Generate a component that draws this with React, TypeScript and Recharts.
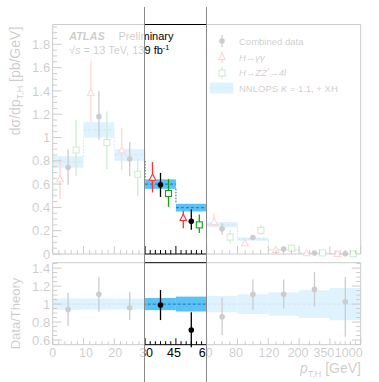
import React from 'react';
import { ComposedChart, Scatter, ErrorBar, XAxis, YAxis, ReferenceArea, ReferenceLine, Legend } from 'recharts';

// bin edges of pT,H (GeV); each bin gets the same width on the plot
const binEdges = ['0', '10', '20', '30', '45', '60', '80', '120', '200', '350', '1000'];

// NNLOPS prediction (pb/GeV) and its relative uncertainty
const theory = [0.79, 1.065, 0.85, 0.6, 0.398, 0.252, 0.127, 0.037, 0.0095, 0.0022];
const theoryRelUnc = [0.063, 0.062, 0.06, 0.068, 0.083, 0.09, 0.11, 0.13, 0.155, 0.18];

// combined measurement
const combined = [0.742, 1.18, 0.815, 0.594, 0.281, 0.217, 0.142, 0.043, 0.009, 0.0025];
const combinedLo = [0.148, 0.2, 0.148, 0.104, 0.072, 0.052, 0.02, 0.006, 0.002, 0.001];
const combinedHi = [0.154, 0.22, 0.145, 0.102, 0.102, 0.05, 0.02, 0.006, 0.002, 0.001];

// H -> gamma gamma
const yy = [0.643, 1.383, 0.89, 0.655, 0.31, 0.275, 0.093, 0.035, 0.007, 0.002];
const yyLo = [0.173, 0.253, 0.17, 0.127, 0.09, 0.038, 0.012, 0.006, 0.003, 0.001];
const yyHi = [0.174, 0.277, 0.19, 0.134, 0.06, 0.073, 0.012, 0.006, 0.003, 0.001];

// H -> ZZ* -> 4l
const zz = [0.893, 0.957, 0.684, 0.519, 0.25, 0.145, 0.203, 0.05, 0.009, 0.002];
const zzLo = [0.226, 0.227, 0.184, 0.113, 0.07, 0.052, 0.038, 0.01, 0.004, 0.002];
const zzHi = [0.257, 0.266, 0.133, 0.124, 0.089, 0.064, 0.043, 0.01, 0.004, 0.002];

// Data / Theory
const ratio = [0.94, 1.108, 0.959, 0.989, 0.711, 0.859, 1.108, 1.108, 1.163, 1.026];
const ratioLo = [0.181, 0.194, 0.137, 0.167, 0.19, 0.203, 0.175, 0.156, 0.193, 0.389];
const ratioHi = [0.186, 0.192, 0.178, 0.167, 0.197, 0.215, 0.166, 0.166, 0.196, 0.274];

const legendLabels = ['Combined data', 'H\u2192\u03b3\u03b3', 'H\u2192ZZ*\u21924l', 'NNLOPS K = 1.1, + XH'];

const RED = '#ff3030';
const GREEN = '#12a012';
const BAND = '#5bc2f4';
const DASH = '#2f7cd6';
const FONT = '"Liberation Sans", Arial, Helvetica, sans-serif';

const W = 379;
const H = 382;
const L = 52.7;
const R = W - 360.7;
const FOCUS_L = 144.5;
const FOCUS_R = 206.7;

const minorDiv = [5, 5, 5, 6, 6, 4, 4, 4, 3, 6];
const xTicks: number[] = [];
minorDiv.forEach((n, i) => {
  for (let k = 0; k < n; k++) xTicks.push(i + k / n);
});
xTicks.push(10);
const labelNudge = [0, 2.5, 1, 1, -2, -1, -1.5, 0.7, -1, -6, -12];

const topTicks = Array.from({ length: 40 }, (_, k) => Math.round(k * 5) / 100);
const ratioTicks = Array.from({ length: 19 }, (_, k) => Math.round(55 + k * 5) / 100);

const pts = (v: number[], lo: number[], hi: number[], shift: number) =>
  v.map((y, i) => ({ x: i + 0.5 + shift, y, err: [lo[i], hi[i]] }));

const combinedPts = pts(combined, combinedLo, combinedHi, 0);
const yyPts = pts(yy, yyLo, yyHi, -0.26);
const zzPts = pts(zz, zzLo, zzHi, 0.26);
const ratioPts = pts(ratio, ratioLo, ratioHi, 0);

const fmt = (v: number) => (Math.abs(v - Math.round(v)) < 1e-6 ? String(Math.round(v)) : v.toFixed(1));
const isMajorY = (v: number) => Math.abs(v / 0.2 - Math.round(v / 0.2)) < 1e-6;

const YTick = (props: any) => {
  const { x, y, payload, side, majorLen, minorLen, fontSize } = props;
  const v = payload.value;
  const major = isMajorY(v);
  const dir = side === 'left' ? 1 : -1;
  return (
    <g>
      <line x1={x} x2={x + dir * (major ? majorLen : minorLen)} y1={y} y2={y} stroke="#000" />
      {side === 'left' && major && (
        <text x={x - 2.5} y={y + 4.6} textAnchor="end" fontSize={fontSize} fill="#000">
          {fmt(v)}
        </text>
      )}
    </g>
  );
};

const XTick = (props: any) => {
  const { x, y, payload, dir, majorLen, minorLen, labels } = props;
  const v = payload.value;
  const major = Math.abs(v - Math.round(v)) < 1e-6;
  const idx = Math.round(v);
  return (
    <g>
      <line x1={x} x2={x} y1={y} y2={y + dir * (major ? majorLen : minorLen)} stroke="#000" />
      {labels && major && (
        <text x={x + labelNudge[idx]} y={y + 12.5} textAnchor="middle" fontSize={12.5} fill="#000">
          {binEdges[idx]}
        </text>
      )}
    </g>
  );
};

const DotShape = (p: any) => <circle cx={p.cx} cy={p.cy} r={2.8} fill="#000" />;
const TriShape = (p: any) => (
  <path
    d={`M${p.cx},${p.cy - 3.6} L${p.cx + 3.3},${p.cy + 2.6} L${p.cx - 3.3},${p.cy + 2.6} Z`}
    fill="#fff"
    stroke={RED}
    strokeWidth={1.1}
  />
);
const SqShape = (p: any) => (
  <rect x={p.cx - 3} y={p.cy - 3} width={6} height={6} fill="#fff" stroke={GREEN} strokeWidth={1.1} />
);

const LegendBox = () => {
  const rowH = 15.7;
  const marker = (i: number) => {
    if (i === 3)
      return (
        <svg width={24} height={12}>
          <rect x={0} y={0.5} width={23} height={11} fill={BAND} />
          <line x1={0} x2={23} y1={6} y2={6} stroke={DASH} strokeDasharray="2 1.5" />
        </svg>
      );
    const color = i === 0 ? '#000' : i === 1 ? RED : GREEN;
    return (
      <svg width={24} height={12}>
        <line x1={12} x2={12} y1={0} y2={12} stroke={color} strokeWidth={1.2} />
        {i === 0 && <circle cx={12} cy={6} r={2.8} fill="#000" />}
        {i === 1 && <path d="M12,2.4 L15.3,8.6 L8.7,8.6 Z" fill="#fff" stroke={RED} strokeWidth={1.1} />}
        {i === 2 && <rect x={9} y={3} width={6} height={6} fill="#fff" stroke={GREEN} strokeWidth={1.1} />}
      </svg>
    );
  };
  const text = (i: number) => {
    const s = legendLabels[i];
    if (i === 1) return <i>{s}</i>;
    if (i === 2) {
      const [a, b] = s.split('*');
      return (
        <i>
          {a}
          <sup style={{ fontSize: 6 }}>*</sup>
          {b}
        </i>
      );
    }
    if (i === 3) {
      const [a, b] = s.split('K');
      return (
        <span>
          {a}
          <i>K</i>
          {b}
        </span>
      );
    }
    return <span>{s}</span>;
  };
  return (
    <div style={{ position: 'relative', width: 160, height: 4 * rowH, fontFamily: FONT, fontSize: 9.5, color: '#000' }}>
      {legendLabels.map((_, i) => (
        <div
          key={i}
          style={{ position: 'absolute', left: 0, top: i * rowH, height: rowH, display: 'flex', alignItems: 'center', whiteSpace: 'nowrap' }}
        >
          <div style={{ width: 29, display: 'flex' }}>{marker(i)}</div>
          {text(i)}
        </div>
      ))}
    </div>
  );
};

export default function App() {
  const tickY = (side: string, majorLen: number, minorLen: number, fontSize: number) => (p: any) => (
    <YTick {...p} side={side} majorLen={majorLen} minorLen={minorLen} fontSize={fontSize} />
  );
  const tickX = (dir: number, majorLen: number, minorLen: number, labels: boolean) => (p: any) => (
    <XTick {...p} dir={dir} majorLen={majorLen} minorLen={minorLen} labels={labels} />
  );

  return (
    <div style={{ position: 'absolute', left: 0, top: 0, width: W, height: H, background: '#fff', fontFamily: FONT, overflow: 'hidden' }}>
      {/* upper panel: differential cross-section */}
      <div style={{ position: 'absolute', left: 0, top: 0 }}>
        <ComposedChart width={W} height={H} margin={{ top: 0, right: 0, bottom: 0, left: 0 }}>
          {theory.map((t, i) => (
            <ReferenceArea
              key={`b${i}`}
              x1={i}
              x2={i + 1}
              y1={t * (1 - theoryRelUnc[i])}
              y2={t * (1 + theoryRelUnc[i])}
              fill={BAND}
              fillOpacity={1}
              stroke="none"
            />
          ))}
          {theory.map((t, i) => (
            <ReferenceLine
              key={`c${i}`}
              segment={[{ x: i, y: t }, { x: i + 1, y: t }]}
              stroke={DASH}
              strokeWidth={1.2}
              strokeDasharray="3 2"
            />
          ))}
          {theory.slice(0, -1).map((t, i) => {
            const n = theory[i + 1];
            const from = n < t ? t * (1 - theoryRelUnc[i]) : t * (1 + theoryRelUnc[i]);
            const to = n < t ? n * (1 + theoryRelUnc[i + 1]) : n * (1 - theoryRelUnc[i + 1]);
            return (
              <ReferenceLine
                key={`v${i}`}
                segment={[{ x: i + 1, y: from }, { x: i + 1, y: to }]}
                stroke={DASH}
                strokeWidth={1.2}
                strokeDasharray="1.5 1.5"
              />
            );
          })}
          <XAxis dataKey="x" type="number" domain={[0, 10]} ticks={xTicks} interval={0} height={H - 254} tickSize={0}
            tickMargin={0} stroke="#000" tick={tickX(-1, 8, 4, false)} />
          <XAxis xAxisId="top" orientation="top" dataKey="x" type="number" domain={[0, 10]} ticks={xTicks} interval={0}
            height={24.5} tickSize={0} tickMargin={0} stroke="#000" tick={tickX(1, 8, 4, false)} />
          <YAxis dataKey="y" type="number" domain={[0, 1.97]} ticks={topTicks} interval={0} width={L} tickSize={0}
            tickMargin={0} stroke="#000" tick={tickY('left', 9, 4.5, 13)} />
          <YAxis yAxisId="right" orientation="right" dataKey="y" type="number" domain={[0, 1.97]} ticks={topTicks}
            interval={0} width={R} tickSize={0} tickMargin={0} stroke="#000" tick={tickY('right', 9, 4.5, 13)} />
          <Scatter data={yyPts} shape={TriShape} isAnimationActive={false}>
            <ErrorBar dataKey="err" direction="y" width={0} stroke={RED} strokeWidth={1.3} />
          </Scatter>
          <Scatter data={combinedPts} shape={DotShape} isAnimationActive={false}>
            <ErrorBar dataKey="err" direction="y" width={0} stroke="#000" strokeWidth={1.3} />
          </Scatter>
          <Scatter data={zzPts} shape={SqShape} isAnimationActive={false}>
            <ErrorBar dataKey="err" direction="y" width={0} stroke={GREEN} strokeWidth={1.3} />
          </Scatter>
          <Legend
            layout="vertical"
            align="center"
            verticalAlign="middle"
            content={() => <LegendBox />}
            wrapperStyle={{ left: 210, top: 33.5, width: 160 }}
          />
        </ComposedChart>
      </div>

      {/* lower panel: Data / Theory */}
      <div style={{ position: 'absolute', left: 0, top: 0 }}>
        <ComposedChart width={W} height={H} margin={{ top: 0, right: 0, bottom: 0, left: 0 }}>
          {theoryRelUnc.map((u, i) => (
            <ReferenceArea key={`r${i}`} x1={i} x2={i + 1} y1={1 - u} y2={1 + u} fill={BAND} fillOpacity={1} stroke="none" />
          ))}
          <ReferenceLine y={1} stroke={DASH} strokeWidth={1.2} strokeDasharray="3 2" />
          <XAxis dataKey="x" type="number" domain={[0, 10]} ticks={xTicks} interval={0} height={H - 344.7} tickSize={0}
            tickMargin={0} stroke="#000" tick={tickX(-1, 6.5, 3.5, true)} />
          <XAxis xAxisId="top" orientation="top" dataKey="x" type="number" domain={[0, 10]} ticks={xTicks} interval={0}
            height={262.7} tickSize={0} tickMargin={0} stroke="#000" tick={tickX(1, 6.5, 3.5, false)} />
          <YAxis dataKey="y" type="number" domain={[0.548, 1.46]} ticks={ratioTicks} interval={0} width={L} tickSize={0}
            tickMargin={0} allowDataOverflow stroke="#000" tick={tickY('left', 9, 4.5, 13)} />
          <YAxis yAxisId="right" orientation="right" dataKey="y" type="number" domain={[0.548, 1.46]} ticks={ratioTicks}
            interval={0} width={R} tickSize={0} tickMargin={0} allowDataOverflow stroke="#000"
            tick={tickY('right', 9, 4.5, 13)} />
          <Scatter data={ratioPts} shape={DotShape} isAnimationActive={false}>
            <ErrorBar dataKey="err" direction="y" width={0} stroke="#000" strokeWidth={1.3} />
          </Scatter>
        </ComposedChart>
      </div>

      {/* titles */}
      <svg width={W} height={H} style={{ position: 'absolute', left: 0, top: 0 }}>
        <text transform="translate(19.5,81) rotate(-90)" textAnchor="middle" fontSize={14} fill="#000">
          d{'\u03c3'}/dp
          <tspan fontSize={9} dy={3}>T,H</tspan>
          <tspan dy={-3}> [pb/GeV]</tspan>
        </text>
        <text transform="translate(19.5,313.5) rotate(-90)" textAnchor="middle" fontSize={13} fill="#000">
          Data/Theory
        </text>
        <text x={361} y={373} textAnchor="end" fontSize={14} fill="#000">
          <tspan fontStyle="italic">p</tspan>
          <tspan fontSize={9} dy={4}>T,H</tspan>
          <tspan dy={-4}> [GeV]</tspan>
        </text>
        <text x={69} y={40} fontSize={11} fill="#000">
          <tspan fontWeight="bold" fontStyle="italic">ATLAS</tspan>
          <tspan x={118.5}>Preliminary</tspan>
        </text>
        <text x={69} y={54.3} fontSize={11} fill="#000">
          {'\u221a'}<tspan fontStyle="italic">s</tspan> = 13 TeV, 139 fb
          <tspan fontSize={7.5} dy={-4}>-1</tspan>
        </text>
      </svg>

      {/* fade everything outside the 30-60 GeV column */}
      <div style={{ position: 'absolute', left: 0, top: 0, width: FOCUS_L, height: H, background: 'rgba(255,255,255,0.8)' }} />
      <div style={{ position: 'absolute', left: FOCUS_R, top: 0, width: W - FOCUS_R, height: H, background: 'rgba(255,255,255,0.8)' }} />
      <div style={{ position: 'absolute', left: FOCUS_L - 0.7, top: 7, width: 1.4, height: H - 7, background: '#8a8a8a' }} />
      <div style={{ position: 'absolute', left: FOCUS_R - 0.7, top: 7, width: 1.4, height: H - 7, background: '#8a8a8a' }} />
    </div>
  );
}
